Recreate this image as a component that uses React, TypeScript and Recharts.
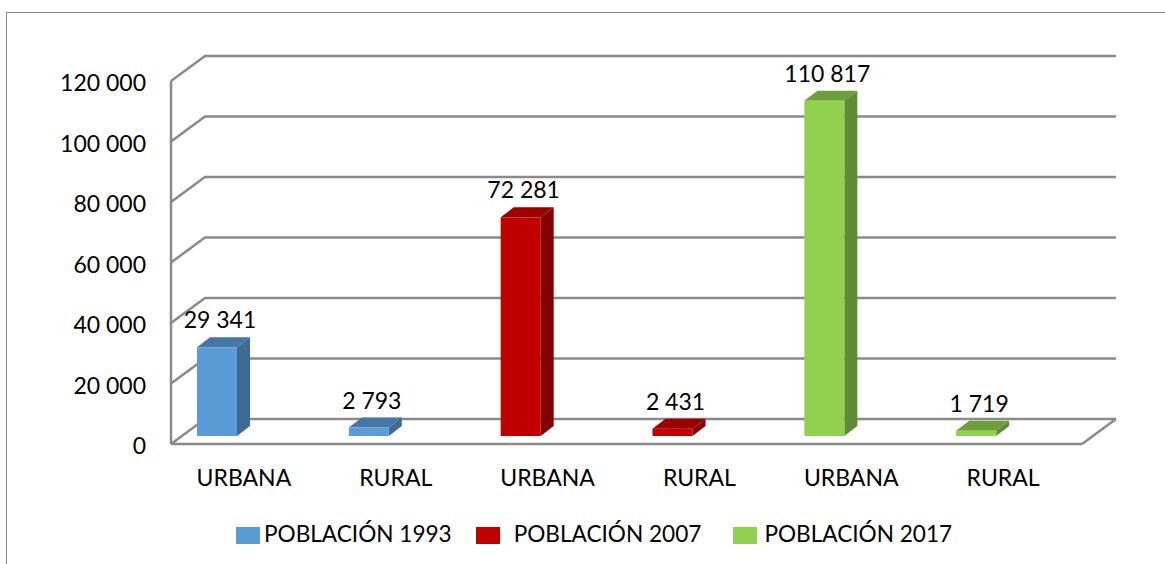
import { BarChart, Bar, XAxis, YAxis, CartesianGrid, Legend, LabelList } from 'recharts';

const categories = ['URBANA', 'RURAL', 'URBANA', 'RURAL', 'URBANA', 'RURAL'];
const poblacion1993 = [29341, 2793, null, null, null, null];
const poblacion2007 = [null, null, 72281, 2431, null, null];
const poblacion2017 = [null, null, null, null, 110817, 1719];
const yTicks = [0, 20000, 40000, 60000, 80000, 100000, 120000];

const data = categories.map((name, i) => ({
  id: i,
  name,
  p1993: poblacion1993[i],
  p2007: poblacion2007[i],
  p2017: poblacion2017[i],
}));

const FONT = 'Lato, sans-serif';
const GRID = '#8a8a8a';
const DEPTH_X = 34;
const DEPTH_Y = 25;
// bars sit behind and left of the front axis plane
const BAR_DX = -30;
const BAR_DY = -8;

const fmt = (v: number) => String(v).replace(/\B(?=(\d{3})+$)/g, ' ');

function box3d(front: string, top: string, side: string) {
  return (props: any) => {
    const { x, y, width, height } = props;
    if (!height) return null;
    const l = x + BAR_DX;
    const t = y + BAR_DY;
    const r = l + width;
    const b = t + height;
    const dx = 13;
    const dy = 10;
    return (
      <g>
        <path d={`M${l},${t} L${l + dx},${t - dy} L${r + dx},${t - dy} L${r},${t} Z`} fill={top} />
        <path d={`M${r},${t} L${r + dx},${t - dy} L${r + dx},${b - dy} L${r},${b} Z`} fill={side} />
        <rect x={l} y={t} width={width} height={height} fill={front} />
      </g>
    );
  };
}

function barLabel(props: any) {
  const { x, y, width, value } = props;
  if (value == null) return null;
  return (
    <text
      x={x + BAR_DX + width / 2 + 3}
      y={y + BAR_DY - 28}
      textAnchor="middle"
      dominantBaseline="central"
      fontFamily={FONT}
      fontSize={23}
      fill="#000"
    >
      {fmt(value)}
    </text>
  );
}

function gridLine(props: any) {
  const { x1, x2, y1, offset } = props;
  const floor = Math.abs(y1 - (offset.top + offset.height)) < 1;
  return (
    <g key={props.key}>
      <path
        d={`M${x1},${y1} L${x1 + DEPTH_X},${y1 - DEPTH_Y} L${x2 + DEPTH_X},${y1 - DEPTH_Y}`}
        fill="none"
        stroke={GRID}
        strokeWidth={2.5}
      />
      {floor && (
        <path d={`M${x2},${y1} L${x2 + DEPTH_X},${y1 - DEPTH_Y}`} fill="none" stroke={GRID} strokeWidth={2.5} />
      )}
    </g>
  );
}

function legendContent(props: any) {
  const gaps = [0, 24, 32];
  const markGap = [4, 14, 7];
  return (
    <div style={{ display: 'flex', paddingLeft: 236, fontFamily: FONT, fontSize: 22.6, color: '#000' }}>
      {props.payload.map((p: any, i: number) => (
        <div key={p.value} style={{ display: 'flex', alignItems: 'center', marginLeft: gaps[i] }}>
          <span style={{ width: 24, height: 17, background: p.color, marginRight: markGap[i], marginTop: 2 }} />
          <span style={{ lineHeight: '30px' }}>{p.value}</span>
        </div>
      ))}
    </div>
  );
}

export default function App() {
  return (
    <div style={{ position: 'absolute', left: 0, top: 0, width: 1165, height: 564, overflow: 'hidden', background: '#fff' }}>
      <div
        style={{
          position: 'absolute',
          left: 6,
          top: 12,
          width: 1159,
          height: 552,
          borderTop: '1px solid #8a8a8a',
          borderLeft: '1px solid #8a8a8a',
        }}
      />
      <div style={{ position: 'absolute', left: 0, top: 0 }}>
        <BarChart
          width={1165}
          height={564}
          data={data}
          barSize={40}
          margin={{ top: 81, right: 83, bottom: 30, left: 0 }}
        >
          <CartesianGrid vertical={false} horizontal={gridLine} />
          <XAxis
            dataKey="id"
            tickFormatter={(i: number) => categories[i]}
            interval={0}
            axisLine={{ stroke: GRID, strokeWidth: 2.5 }}
            tickLine={false}
            tickMargin={20}
            height={60}
            dx={-3}
            tick={{ fontFamily: FONT, fontSize: 23, fill: '#000' }}
          />
          <YAxis
            width={171}
            domain={[0, 120000]}
            ticks={yTicks}
            tickFormatter={fmt}
            axisLine={{ stroke: GRID, strokeWidth: 2.5 }}
            tickLine={false}
            tickMargin={19}
            dy={2}
            tick={{ fontFamily: FONT, fontSize: 23, fill: '#000' }}
          />
          <Legend
            content={legendContent}
            verticalAlign="bottom"
            wrapperStyle={{ left: 0, width: 1165, top: 519 }}
          />
          <Bar dataKey="p1993" name="POBLACIÓN 1993" stackId="a" fill="#5b9bd5" isAnimationActive={false} shape={box3d('#5b9bd5', '#4676a5', '#3e6a93')}>
            <LabelList dataKey="p1993" content={barLabel} />
          </Bar>
          <Bar dataKey="p2007" name="POBLACIÓN 2007" stackId="a" fill="#c00000" isAnimationActive={false} shape={box3d('#c00000', '#9a0000', '#830000')}>
            <LabelList dataKey="p2007" content={barLabel} />
          </Bar>
          <Bar dataKey="p2017" name="POBLACIÓN 2017" stackId="a" fill="#92d050" isAnimationActive={false} shape={box3d('#92d050', '#6e9e3c', '#5f8b35')}>
            <LabelList dataKey="p2017" content={barLabel} />
          </Bar>
        </BarChart>
      </div>
    </div>
  );
}
